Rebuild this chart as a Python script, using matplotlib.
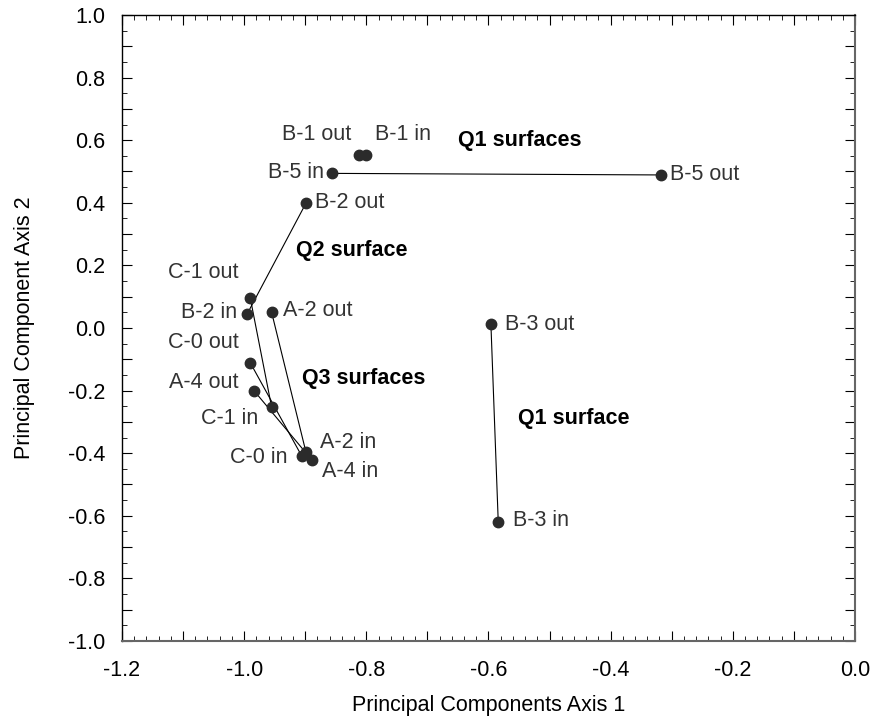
import matplotlib

matplotlib.use("Agg")
import matplotlib.pyplot as plt
from matplotlib.ticker import FuncFormatter, MultipleLocator

plt.rcParams["font.family"] = ["Liberation Sans", "DejaVu Sans"]
plt.rcParams["axes.unicode_minus"] = False

# sample points (PC axis 1, PC axis 2)
names = ["B-1 out", "B-1 in", "B-5 in", "B-5 out", "B-2 out", "B-2 in",
         "C-1 out", "C-1 in", "A-2 out", "A-2 in", "C-0 out", "C-0 in",
         "A-4 out", "A-4 in", "B-3 out", "B-3 in"]
pc1 = [-0.812, -0.800, -0.856, -0.318, -0.899, -0.995,
       -0.990, -0.955, -0.955, -0.899, -0.990, -0.906,
       -0.984, -0.889, -0.596, -0.584]
pc2 = [0.553, 0.553, 0.494, 0.489, 0.398, 0.045,
       0.096, -0.253, 0.050, -0.395, -0.111, -0.408,
       -0.200, -0.422, 0.012, -0.619]

# out/in pairs joined by a line
pairs = [("B-5 in", "B-5 out"), ("B-2 out", "B-2 in"), ("C-1 out", "C-1 in"),
         ("A-2 out", "A-2 in"), ("C-0 out", "C-0 in"), ("A-4 out", "A-4 in"),
         ("B-3 out", "B-3 in")]

groups = ["Q1 surfaces", "Q2 surface", "Q3 surfaces", "Q1 surface"]

# label placement: (dx px, dy px, horizontal alignment)
label_pos = {
    "B-1 out": (-8, 20, "right"), "B-1 in": (9, 20, "left"),
    "B-5 in": (-8, 1, "right"), "B-5 out": (9, 0, "left"),
    "B-2 out": (9, 1, "left"), "B-2 in": (-10, 1, "right"),
    "C-1 out": (-12, 25, "right"), "C-1 in": (-13, -11, "right"),
    "A-2 out": (11, 2, "left"), "A-2 in": (14, 9, "left"),
    "C-0 out": (-11, 20, "right"), "C-0 in": (-14, -2, "right"),
    "A-4 out": (-15, 8, "right"), "A-4 in": (10, -11, "left"),
    "B-3 out": (14, 0, "left"), "B-3 in": (15, 1, "left"),
}
group_pos = [(-0.650, 0.600), (-0.915, 0.249), (-0.905, -0.160), (-0.552, -0.288)]

fig = plt.figure(figsize=(8.75, 7.25), dpi=100)
ax = fig.add_axes([0.1394, 0.1159, 0.8377, 0.8634])

idx = {n: i for i, n in enumerate(names)}
for a, b in pairs:
    ax.plot([pc1[idx[a]], pc1[idx[b]]], [pc2[idx[a]], pc2[idx[b]]],
            color="black", linewidth=0.8, zorder=2)

ax.plot(pc1, pc2, "o", color="#2b2b2b", markersize=7.5, linestyle="none", zorder=3)

for name, x, y in zip(names, pc1, pc2):
    dx, dy, ha = label_pos[name]
    ax.annotate(name, (x, y), xytext=(dx, dy), textcoords="offset pixels",
                ha=ha, va="center", fontsize=15.5, color="#333333")

for text, (gx, gy) in zip(groups, group_pos):
    ax.text(gx, gy, text, ha="left", va="center", fontsize=15.5,
            fontweight="bold", color="black")

ax.set_xlim(-1.2, 0.0)
ax.set_ylim(-1.0, 1.0)


def every_other(v, pos):
    if round(v / 0.1) % 2 == 0:
        return f"{v:.1f}".replace("-0.0", "0.0")
    return ""


ax.xaxis.set_major_locator(MultipleLocator(0.1))
ax.xaxis.set_minor_locator(MultipleLocator(0.02))
ax.yaxis.set_major_locator(MultipleLocator(0.1))
ax.yaxis.set_minor_locator(MultipleLocator(0.05))
ax.xaxis.set_major_formatter(FuncFormatter(every_other))
ax.yaxis.set_major_formatter(FuncFormatter(every_other))

ax.tick_params(which="both", direction="in", top=True, right=True,
               labelsize=15.5, colors="black")
ax.tick_params(axis="x", which="major", length=7, pad=14)
ax.tick_params(axis="y", which="major", length=7, pad=12)
ax.tick_params(which="minor", length=3.5)

for side in ["left", "top"]:
    ax.spines[side].set_color("black")
    ax.spines[side].set_linewidth(1.0)
for side in ["right", "bottom"]:
    ax.spines[side].set_color("#666666")
    ax.spines[side].set_linewidth(1.5)

ax.set_xlabel("Principal Components Axis 1", fontsize=15.5, labelpad=10)
ax.set_ylabel("Principal Component Axis 2", fontsize=15.5, labelpad=24)

fig.savefig("out.png", dpi=100)
plt.close(fig)
